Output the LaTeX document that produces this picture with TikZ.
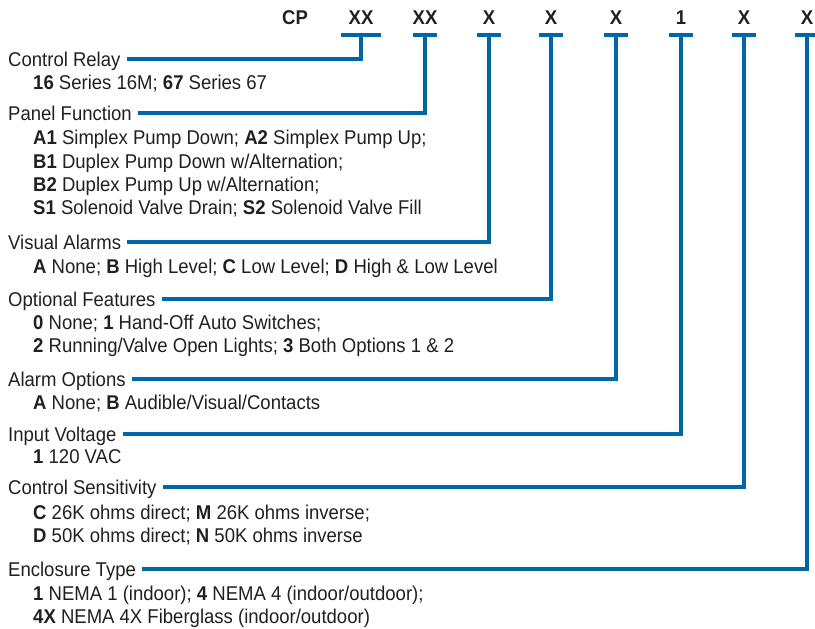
\documentclass[tikz,border=0pt]{standalone}
\usepackage{fontspec}
\setmainfont[FakeStretch=0.93]{Liberation Sans}
\usetikzlibrary{positioning}
\definecolor{codeblue}{HTML}{0067A6}
\definecolor{inkgrey}{HTML}{231F20}
\newcommand{\sheetfont}{\fontsize{20}{23.3}\selectfont}
\tikzstyle{head}=[anchor=west, inner xsep=6bp, inner ysep=0pt, text height=14.3bp, text depth=0pt]
\tikzstyle{opts}=[align=left, inner sep=0pt]
\tikzstyle{code}=[font=\sheetfont\bfseries, inner sep=0pt]
\tikzstyle{link}=[draw=codeblue, line width=3.5bp]

\begin{document}
\begin{tikzpicture}[x=1bp, y=1bp, every node/.style={text=inkgrey}, font=\sheetfont]
    \useasboundingbox (0,0) rectangle (815,-629);

    % model code
    \node[code] (cp) at (295,-18) {CP};
    \foreach \n/\x/\t in {relay/361/XX, panel/425/XX, visual/489/X, optional/551/X,
                          alarm/616/X, volt/681/1, sens/744/X, encl/807/X} {
        \node[code] (\n-code) at (\x,-18) {\t};
        \coordinate (\n-top) at (\x,-35);
    }
    \draw[link] ([xshift=-20]relay-top) -- ([xshift=20]relay-top);
    \foreach \n in {panel, visual, optional, alarm, volt, sens, encl}
        \draw[link] ([xshift=-12]\n-top) -- ([xshift=12]\n-top);

    % headings
    \node[head] (relay)    at (2,-59)  {Control Relay};
    \node[head] (panel)    at (2,-113) {Panel Function};
    \node[head] (visual)   at (2,-242) {Visual Alarms};
    \node[head] (optional) at (2,-299) {Optional Features};
    \node[head] (alarm)    at (2,-379) {Alarm Options};
    \node[head] (volt)     at (2,-434) {Input Voltage};
    \node[head] (sens)     at (2,-487) {Control Sensitivity};
    \node[head] (encl)     at (2,-569) {Enclosure Type};

    % choices
    \node[opts] (relay-opts)    [below right=8.5bp and 31bp of relay.south west]
        {\textbf{16} Series 16M; \textbf{67} Series 67};
    \node[opts] (panel-opts)    [below right=10bp and 31bp of panel.south west]
        {\textbf{A1} Simplex Pump Down; \textbf{A2} Simplex Pump Up;\\
         \textbf{B1} Duplex Pump Down w/Alternation;\\
         \textbf{B2} Duplex Pump Up w/Alternation;\\
         \textbf{S1} Solenoid Valve Drain; \textbf{S2} Solenoid Valve Fill};
    \node[opts] (visual-opts)   [below right=10bp and 31bp of visual.south west]
        {\textbf{A} None; \textbf{B} High Level; \textbf{C} Low Level; \textbf{D} High \& Low Level};
    \node[opts] (optional-opts) [below right=8.5bp and 31bp of optional.south west]
        {\textbf{0} None; \textbf{1} Hand-Off Auto Switches;\\
         \textbf{2} Running/Valve Open Lights; \textbf{3} Both Options 1 \& 2};
    \node[opts] (alarm-opts)    [below right=8.5bp and 31bp of alarm.south west]
        {\textbf{A} None; \textbf{B} Audible/Visual/Contacts};
    \node[opts] (volt-opts)     [below right=8.5bp and 31bp of volt.south west]
        {\textbf{1} 120 VAC};
    \node[opts] (sens-opts)     [below right=10.5bp and 31bp of sens.south west]
        {\textbf{C} 26K ohms direct; \textbf{M} 26K ohms inverse;\\
         \textbf{D} 50K ohms direct; \textbf{N} 50K ohms inverse};
    \node[opts] (encl-opts)     [below right=9.5bp and 31bp of encl.south west]
        {\textbf{1} NEMA 1 (indoor); \textbf{4} NEMA 4 (indoor/outdoor);\\
         \textbf{4X} NEMA 4X Fiberglass (indoor/outdoor)};

    % leaders
    \foreach \n in {relay, panel, visual, optional, alarm, volt, sens, encl}
        \draw[link] (\n.east) -| (\n-top);
\end{tikzpicture}
\end{document}
